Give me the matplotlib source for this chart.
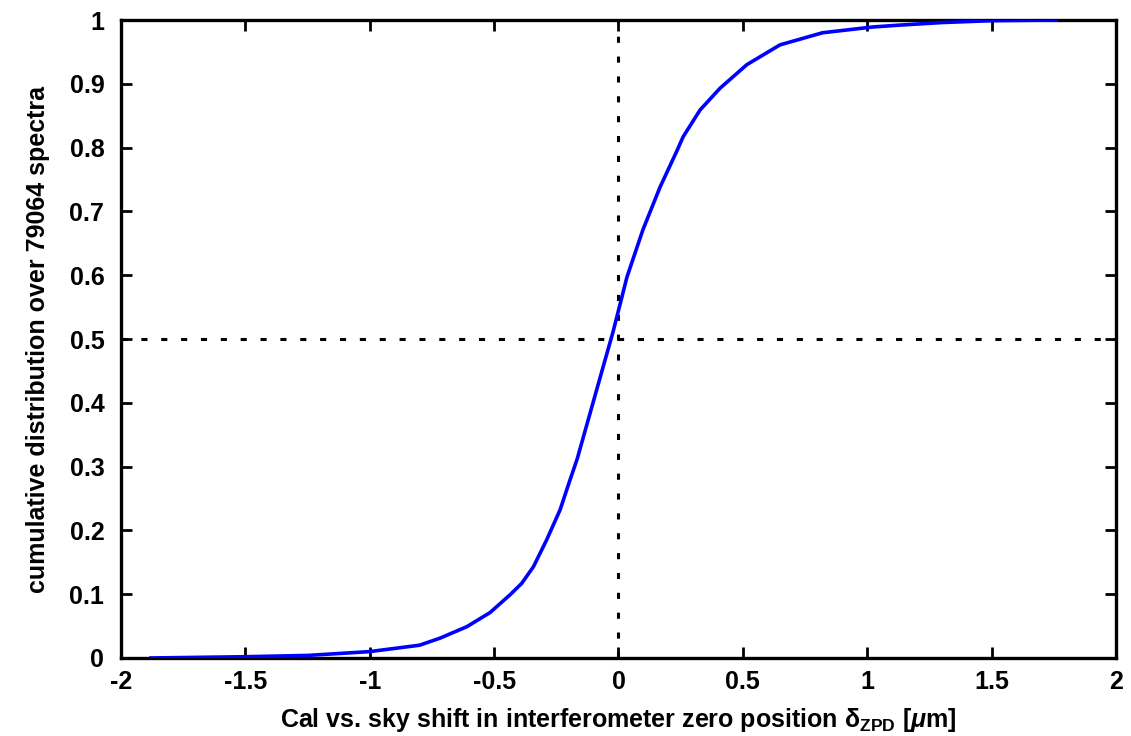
import matplotlib
matplotlib.use("Agg")
import matplotlib.pyplot as plt

# Valores (CDF del corrimiento ZPD)
shift_um = [-1.88, -1.5, -1.25, -1.0, -0.8, -0.718, -0.61, -0.517, -0.436,
            -0.389, -0.342, -0.289, -0.235, -0.195, -0.166, -0.062, -0.022,
            0.034, 0.098, 0.167, 0.235, 0.26, 0.328, 0.408, 0.516, 0.649,
            0.82, 1.02, 1.13, 1.3, 1.5, 1.76]
cdf = [0.0, 0.002, 0.004, 0.010, 0.020, 0.031, 0.049, 0.071, 0.099,
       0.117, 0.143, 0.185, 0.232, 0.279, 0.312, 0.456, 0.511,
       0.597, 0.671, 0.738, 0.795, 0.817, 0.859, 0.893, 0.930, 0.961,
       0.980, 0.989, 0.992, 0.996, 0.999, 1.0]

xticks = [-2, -1.5, -1, -0.5, 0, 0.5, 1, 1.5, 2]
yticks = [0, 0.1, 0.2, 0.3, 0.4, 0.5, 0.6, 0.7, 0.8, 0.9, 1]

plt.rcParams["font.family"] = ["Liberation Sans", "DejaVu Sans"]
plt.rcParams["font.weight"] = "bold"
plt.rcParams["mathtext.fontset"] = "custom"
plt.rcParams["mathtext.rm"] = "Liberation Sans:bold"
plt.rcParams["mathtext.it"] = "Liberation Sans:bold:italic"
plt.rcParams["mathtext.bf"] = "Liberation Sans:bold"

fig = plt.figure(figsize=(11.31, 7.36), dpi=100)
ax = fig.add_axes([0.107, 0.106, 0.8797, 0.8668])

ax.axhline(0.5, color="black", lw=2.2, ls=(0, (2, 4.5)), zorder=1)
ax.axvline(0, color="black", lw=2.2, ls=(0, (2, 4.5)), zorder=1)
ax.plot(shift_um, cdf, color="blue", lw=2.6, zorder=3,
        solid_joinstyle="round")

ax.set_xlim(-2, 2)
ax.set_ylim(0, 1)
ax.set_xticks(xticks)
ax.set_xticklabels([f"{t:g}" for t in xticks])
ax.set_yticks(yticks)
ax.set_yticklabels([f"{t:g}" for t in yticks])
ax.tick_params(direction="in", length=8, width=2, labelsize=18,
               top=True, right=True)
ax.tick_params(axis="y", pad=12)
ax.tick_params(axis="x", pad=9)
for s in ax.spines.values():
    s.set_linewidth(2.4)

ax.set_xlabel(r"Cal vs. sky shift in interferometer zero position "
              r"$\mathrm{\delta_{ZPD}}$ [$\mu$m]", fontsize=18,
              fontweight="bold", labelpad=8)
ax.set_ylabel("cumulative distribution over 79064 spectra", fontsize=18,
              fontweight="bold", labelpad=14)

fig.savefig("out.png", dpi=100)
